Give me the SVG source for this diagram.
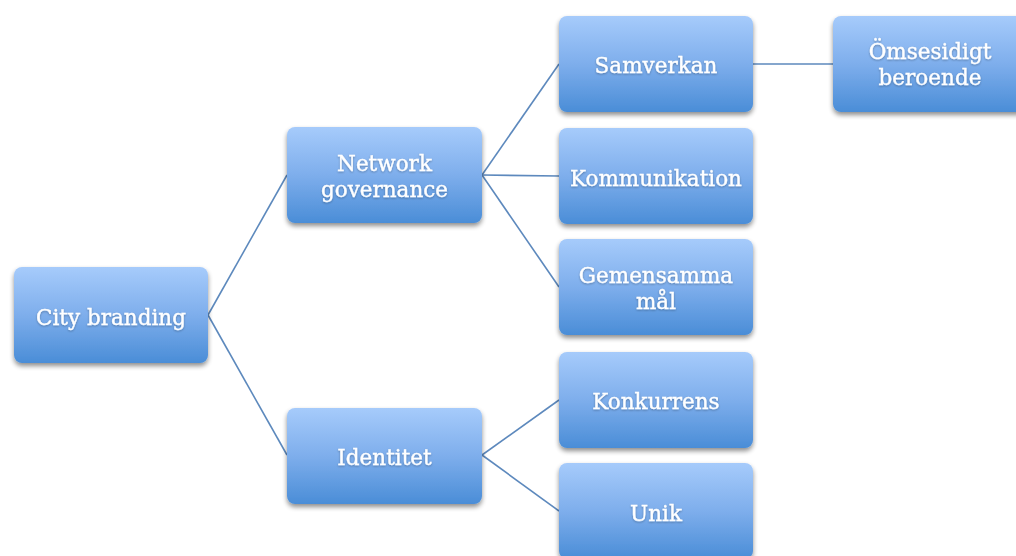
<svg xmlns="http://www.w3.org/2000/svg" width="1016" height="556" viewBox="0 0 1016 556">
  <defs>
    <linearGradient id="boxFill" x1="0" y1="0" x2="0" y2="1">
      <stop offset="0" stop-color="#a6cbfb"/>
      <stop offset="0.5" stop-color="#7eaeec"/>
      <stop offset="1" stop-color="#4a8dd7"/>
    </linearGradient>
    <filter id="shadow" x="-10%" y="-10%" width="120%" height="130%">
      <feGaussianBlur in="SourceAlpha" stdDeviation="2.5"/>
      <feOffset dx="0" dy="3" result="b"/>
      <feComponentTransfer><feFuncA type="linear" slope="0.45"/></feComponentTransfer>
      <feMerge><feMergeNode/><feMergeNode in="SourceGraphic"/></feMerge>
    </filter>
    <filter id="textShadow" x="-5%" y="-20%" width="110%" height="140%">
      <feGaussianBlur in="SourceAlpha" stdDeviation="0.8"/>
      <feOffset dx="0" dy="1"/>
      <feComponentTransfer><feFuncA type="linear" slope="0.3"/></feComponentTransfer>
      <feMerge><feMergeNode/><feMergeNode in="SourceGraphic"/></feMerge>
    </filter>
  </defs>
  <style>
    .box { fill: url(#boxFill); filter: url(#shadow); }
    .label { fill: #ffffff; stroke: #ffffff; stroke-width: 0.35; font-family: "DejaVu Serif", "Liberation Serif", serif; font-size: 21.5px; text-anchor: middle; filter: url(#textShadow); }
    .link { stroke: #5d89bd; stroke-width: 1.6; fill: none; }
  </style>
  <rect width="1016" height="556" fill="#ffffff"/>

  <g id="connectors">
    <path class="link" d="M208 315 L287 175"/>
    <path class="link" d="M208 315 L287 455"/>
    <path class="link" d="M482 175 L559 64"/>
    <path class="link" d="M482 175 L559 176"/>
    <path class="link" d="M482 175 L559 287"/>
    <path class="link" d="M482 455 L559 400"/>
    <path class="link" d="M482 455 L559 511"/>
    <path class="link" d="M753 64 L833 64"/>
  </g>

  <g id="city-branding">
    <rect class="box" x="14" y="267" width="194" height="96" rx="8"/>
    <text class="label" x="111" y="325">City branding</text>
  </g>
  <g id="network-governance">
    <rect class="box" x="287" y="127" width="195" height="96" rx="8"/>
    <text class="label" x="384.5" y="171">Network</text>
    <text class="label" x="384.5" y="197">governance</text>
  </g>
  <g id="identitet">
    <rect class="box" x="287" y="408" width="195" height="96" rx="8"/>
    <text class="label" x="384.5" y="465">Identitet</text>
  </g>
  <g id="samverkan">
    <rect class="box" x="559" y="16" width="194" height="96" rx="8"/>
    <text class="label" x="656" y="73">Samverkan</text>
  </g>
  <g id="omsesidigt-beroende">
    <rect class="box" x="833" y="16" width="194" height="96" rx="8"/>
    <text class="label" x="930" y="59">Ömsesidigt</text>
    <text class="label" x="930" y="85">beroende</text>
  </g>
  <g id="kommunikation">
    <rect class="box" x="559" y="128" width="194" height="96" rx="8"/>
    <text class="label" x="656" y="186">Kommunikation</text>
  </g>
  <g id="gemensamma-mal">
    <rect class="box" x="559" y="239" width="194" height="96" rx="8"/>
    <text class="label" x="656" y="283">Gemensamma</text>
    <text class="label" x="656" y="309">mål</text>
  </g>
  <g id="konkurrens">
    <rect class="box" x="559" y="352" width="194" height="96" rx="8"/>
    <text class="label" x="656" y="409">Konkurrens</text>
  </g>
  <g id="unik">
    <rect class="box" x="559" y="463" width="194" height="96" rx="8"/>
    <text class="label" x="656" y="521">Unik</text>
  </g>
</svg>
